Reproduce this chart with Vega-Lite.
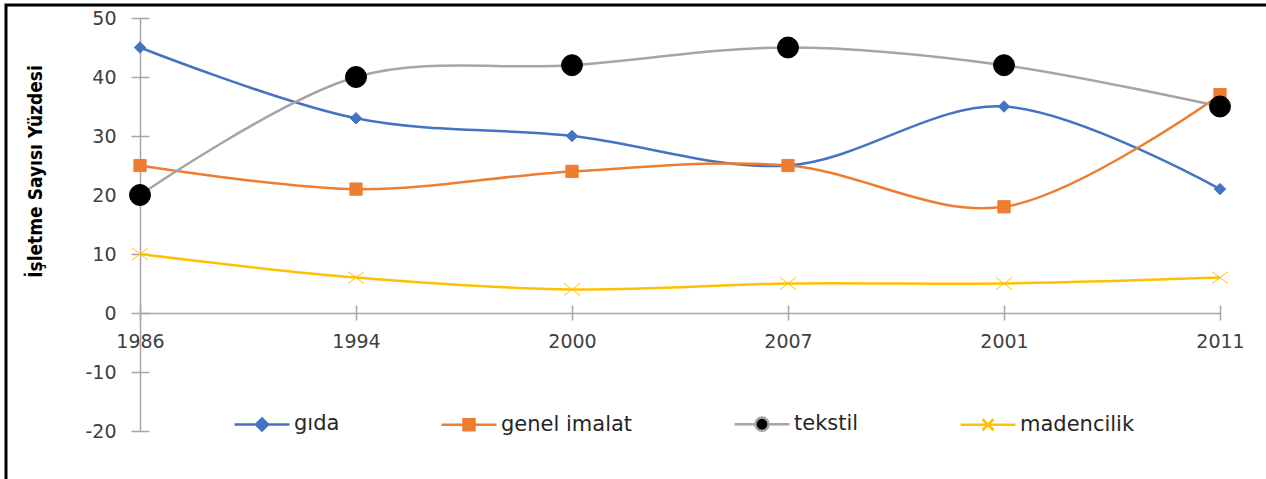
{
  "$schema": "https://vega.github.io/schema/vega-lite/v6.json",
  "width": 1270,
  "height": 480,
  "autosize": "none",
  "padding": {"left": 6, "top": 5, "right": 0, "bottom": 0},
  "background": "white",
  "config": {
    "view": {"stroke": "black", "strokeWidth": 3},
    "font": "DejaVu Sans"
  },
  "data": {
    "values": [
      {"yil": "1986", "seri": "gıda", "deger": 45},
      {"yil": "1994", "seri": "gıda", "deger": 33},
      {"yil": "2000", "seri": "gıda", "deger": 30},
      {"yil": "2007", "seri": "gıda", "deger": 25},
      {"yil": "2001", "seri": "gıda", "deger": 35},
      {"yil": "2011", "seri": "gıda", "deger": 21},
      {"yil": "1986", "seri": "genel imalat", "deger": 25},
      {"yil": "1994", "seri": "genel imalat", "deger": 21},
      {"yil": "2000", "seri": "genel imalat", "deger": 24},
      {"yil": "2007", "seri": "genel imalat", "deger": 25},
      {"yil": "2001", "seri": "genel imalat", "deger": 18},
      {"yil": "2011", "seri": "genel imalat", "deger": 37},
      {"yil": "1986", "seri": "tekstil", "deger": 20},
      {"yil": "1994", "seri": "tekstil", "deger": 40},
      {"yil": "2000", "seri": "tekstil", "deger": 42},
      {"yil": "2007", "seri": "tekstil", "deger": 45},
      {"yil": "2001", "seri": "tekstil", "deger": 42},
      {"yil": "2011", "seri": "tekstil", "deger": 35},
      {"yil": "1986", "seri": "madencilik", "deger": 10},
      {"yil": "1994", "seri": "madencilik", "deger": 6},
      {"yil": "2000", "seri": "madencilik", "deger": 4},
      {"yil": "2007", "seri": "madencilik", "deger": 5},
      {"yil": "2001", "seri": "madencilik", "deger": 5},
      {"yil": "2011", "seri": "madencilik", "deger": 6}
    ]
  },
  "resolve": {
    "scale": {"fill": "independent", "stroke": "independent", "shape": "independent"},
    "axis": {"x": "independent", "y": "independent"}
  },
  "layer": [
    {
      "mark": {"type": "line", "interpolate": "catmull-rom", "strokeWidth": 2.5},
      "encoding": {
        "x": {
          "field": "yil", "type": "nominal",
          "scale": {"type": "point", "domain": ["1986", "1994", "2000", "2007", "2001", "2011"], "range": [134, 1214], "padding": 0},
          "axis": {
            "orient": "bottom", "offset": -172, "title": null, "labelAngle": 0,
            "domainColor": "#A6A6A6", "domainWidth": 1.5, "tickColor": "#A6A6A6", "tickWidth": 1.5, "tickSize": 7,
            "labelPadding": 12, "labelFont": "DejaVu Sans", "labelFontSize": 19, "labelColor": "#404040", "grid": false
          }
        },
        "y": {
          "field": "deger", "type": "quantitative",
          "scale": {"domain": [-20, 50], "range": [426, 13], "nice": false, "zero": false},
          "axis": {
            "orient": "left", "offset": -134, "values": [-20, -10, 0, 10, 20, 30, 40, 50],
            "labelExpr": "datum.value < 0 ? '-' + abs(datum.value) : datum.label",
            "domainColor": "#A6A6A6", "domainWidth": 1.5, "tickColor": "#A6A6A6", "tickWidth": 1.5, "tickSize": 9,
            "labelPadding": 15, "labelFont": "DejaVu Sans", "labelFontSize": 19, "labelColor": "#404040", "grid": false,
            "title": "İşletme Sayısı Yüzdesi", "titleFont": "DejaVu Sans Condensed, Liberation Sans", "titleFontWeight": "bold",
            "titleFontSize": 19, "titleColor": "#000000", "titleX": -95, "titleY": 166
          }
        },
        "color": {
          "field": "seri", "type": "nominal",
          "scale": {"domain": ["gıda", "genel imalat", "tekstil", "madencilik"], "range": ["#4472C4", "#ED7D31", "#A5A5A5", "#FFC000"]},
          "legend": null
        }
      }
    },
    {
      "mark": {"type": "point", "filled": true, "opacity": 1, "strokeWidth": 1},
      "encoding": {
        "x": {
          "field": "yil", "type": "nominal",
          "scale": {"type": "point", "domain": ["1986", "1994", "2000", "2007", "2001", "2011"], "range": [134, 1214], "padding": 0},
          "axis": {"orient": "bottom", "offset": -180, "title": null, "labels": false, "domain": false, "grid": false,
                   "tickColor": "#A6A6A6", "tickWidth": 1.5, "tickSize": 8}
        },
        "y": {
          "field": "deger", "type": "quantitative",
          "scale": {"domain": [-20, 50], "range": [426, 13], "nice": false, "zero": false},
          "axis": {"orient": "left", "offset": -143, "values": [-20, -10, 0, 10, 20, 30, 40, 50], "title": null,
                   "labels": false, "domain": false, "grid": false, "tickColor": "#A6A6A6", "tickWidth": 1.5, "tickSize": 9}
        },
        "fill": {
          "field": "seri", "type": "nominal",
          "scale": {"domain": ["gıda", "genel imalat", "tekstil", "madencilik"], "range": ["#4472C4", "#ED7D31", "#000000", "#FFC000"]},
          "legend": null
        },
        "stroke": {
          "field": "seri", "type": "nominal",
          "scale": {"domain": ["gıda", "genel imalat", "tekstil", "madencilik"], "range": ["#4472C4", "#ED7D31", "#000000", "#FFC000"]},
          "legend": null
        },
        "shape": {
          "field": "seri", "type": "nominal",
          "scale": {"domain": ["gıda", "genel imalat", "tekstil", "madencilik"], "range": ["diamond", "square", "circle", "M-1,-0.75L1,0.75M-1,0.75L1,-0.75"]},
          "legend": null
        },
        "size": {
          "field": "seri", "type": "nominal",
          "scale": {"type": "ordinal", "domain": ["gıda", "genel imalat", "tekstil", "madencilik"], "range": [130, 150, 440, 256]},
          "legend": null
        }
      }
    },
    {
      "mark": {"type": "point", "filled": true, "opacity": 0},
      "encoding": {
        "x": {"field": "yil", "type": "nominal", "axis": null},
        "y": {"field": "deger", "type": "quantitative", "axis": null},
        "fill": {
          "field": "seri", "type": "nominal",
          "scale": {"domain": ["gıda", "genel imalat", "tekstil", "madencilik"], "range": ["#4472C4", "#ED7D31", "#000000", "#FFC000"]},
          "legend": {
            "title": null, "orient": "none", "direction": "horizontal", "legendX": 227, "legendY": 390,
            "symbolSize": 3025, "symbolStrokeWidth": 2.5, "symbolOpacity": 1, "columnPadding": 96, "labelOffset": 3,
            "labelFont": "DejaVu Sans", "labelFontSize": 21, "labelColor": "#262626", "padding": 0
          }
        },
        "stroke": {
          "field": "seri", "type": "nominal",
          "scale": {"domain": ["gıda", "genel imalat", "tekstil", "madencilik"], "range": ["#4472C4", "#ED7D31", "#A5A5A5", "#FFC000"]},
          "legend": {
            "title": null, "orient": "none", "direction": "horizontal", "legendX": 227, "legendY": 390,
            "symbolSize": 3025, "symbolStrokeWidth": 2.5, "symbolOpacity": 1, "columnPadding": 96, "labelOffset": 3,
            "labelFont": "DejaVu Sans", "labelFontSize": 21, "labelColor": "#262626", "padding": 0
          }
        },
        "shape": {
          "field": "seri", "type": "nominal",
          "scale": {"domain": ["gıda", "genel imalat", "tekstil", "madencilik"], "range": [
            "M-1,0L1,0M0,-0.22L0.22,0L0,0.22L-0.22,0Z",
            "M-1,0L1,0M-0.2,-0.2L0.2,-0.2L0.2,0.2L-0.2,0.2Z",
            "M-1,0L-0.27,0M0.27,0L1,0M-0.24,0A0.24,0.24,0,1,1,0.24,0A0.24,0.24,0,1,1,-0.24,0Z",
            "M-1,0L1,0M-0.2,-0.2L0.2,0.2M-0.2,0.2L0.2,-0.2"
          ]},
          "legend": {
            "title": null, "orient": "none", "direction": "horizontal", "legendX": 227, "legendY": 390,
            "symbolSize": 3025, "symbolStrokeWidth": 2.5, "symbolOpacity": 1, "columnPadding": 96, "labelOffset": 3,
            "labelFont": "DejaVu Sans", "labelFontSize": 21, "labelColor": "#262626", "padding": 0
          }
        }
      }
    }
  ]
}
